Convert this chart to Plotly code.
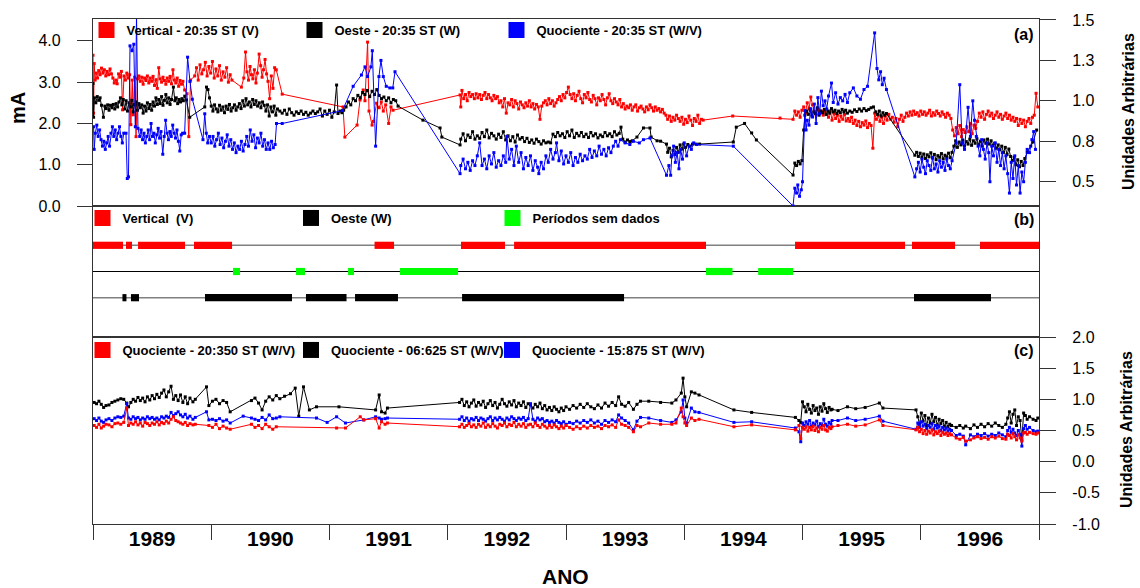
import plotly.graph_objects as go

FONT = "Liberation Sans, Arial, Helvetica, sans-serif"
RED, BLACK, BLUE, GREEN = "#FF0000", "#000000", "#0000FF", "#00FF00"
FRAME = "#333333"

# ---------------- data ----------------
years = [1989, 1990, 1991, 1992, 1993, 1994, 1995, 1996]
year_labels = [str(y) for y in years]
year_edges = years + [1997]

left_ticks_a = [0, 1, 2, 3, 4]
left_ticktext_a = ["0.0", "1.0", "2.0", "3.0", "4.0"]
right_ticks_a = [0.5, 0.75, 1.0, 1.25, 1.5]
right_ticktext_a = ["0.5", "0.8", "1.0", "1.3", "1.5"]
right_ticks_c = [-1, -0.5, 0, 0.5, 1, 1.5, 2]
right_ticktext_c = ["-1.0", "-0.5", "0.0", "0.5", "1.0", "1.5", "2.0"]

# Panel (a) - Vertical 20:35 ST (V), mA (left axis)
vertical_a = [
(1989.000,3.65),(1989.005,2.25),(1989.010,3.45),(1989.018,3.05),(1989.028,3.22),(1989.038,3.10),(1989.048,3.28),(1989.060,3.18),
(1989.072,3.34),(1989.084,3.22),(1989.096,3.30),(1989.108,3.15),(1989.120,3.26),(1989.132,3.18),(1989.144,3.32),(1989.156,3.20),
(1989.168,3.10),(1989.180,2.98),(1989.192,3.05),(1989.204,2.96),(1989.216,3.20),(1989.228,3.12),(1989.240,3.26),(1989.250,2.33),
(1989.262,3.15),(1989.274,3.05),(1989.286,3.22),(1989.298,3.10),(1989.310,3.18),(1989.320,1.97),(1989.332,3.05),(1989.340,2.21),
(1989.352,3.12),(1989.364,1.68),(1989.376,3.08),(1989.388,3.15),(1989.400,3.02),(1989.412,3.12),(1989.424,2.95),(1989.436,3.10),
(1989.448,3.04),(1989.460,3.15),(1989.472,2.98),(1989.484,3.10),(1989.496,3.02),(1989.508,3.14),(1989.520,2.92),(1989.532,3.06),
(1989.544,2.85),(1989.556,3.35),(1989.568,3.08),(1989.580,3.00),(1989.592,3.12),(1989.604,3.04),(1989.616,2.95),(1989.628,3.10),
(1989.640,3.02),(1989.652,3.14),(1989.664,2.96),(1989.676,3.30),(1989.688,3.05),(1989.700,2.98),(1989.712,3.10),(1989.724,2.90),
(1989.736,3.04),(1989.748,2.95),(1989.760,3.02),(1989.775,2.81),(1989.795,2.72),(1989.810,1.68),(1989.825,3.05),
(1989.860,3.15),(1989.875,3.35),(1989.890,3.05),(1989.905,3.42),(1989.920,3.20),(1989.935,3.30),(1989.950,3.48),(1989.965,3.15),
(1989.980,3.38),(1989.995,3.22),(1990.010,3.50),(1990.025,3.10),(1990.040,3.32),(1990.055,3.15),(1990.070,3.40),(1990.085,3.05),
(1990.100,3.25),(1990.115,3.12),(1990.130,3.35),(1990.145,3.00),(1990.160,3.18),(1990.175,3.05),(1990.255,2.88),
(1990.275,3.10),(1990.290,3.73),(1990.302,3.25),(1990.315,3.05),(1990.328,3.38),(1990.340,3.18),(1990.352,3.08),(1990.365,3.30),
(1990.378,2.98),(1990.390,3.22),(1990.405,3.68),(1990.418,3.40),(1990.430,3.12),(1990.442,3.30),(1990.455,3.55),(1990.468,3.20),
(1990.480,3.02),(1990.494,2.60),(1990.508,3.15),(1990.522,2.85),(1990.536,3.35),(1990.550,3.30),(1990.600,2.71),
(1991.114,2.40),(1991.130,1.67),(1991.233,1.96),(1991.258,2.57),(1991.285,2.81),(1991.300,2.55),(1991.322,3.97),(1991.334,2.30),
(1991.360,1.96),(1991.372,2.05),(1991.398,2.49),(1991.420,2.38),(1991.438,2.52),(1991.455,2.30),(1991.475,2.45),(1991.500,2.00),
(1991.520,2.40),(1991.537,2.32),(1992.104,2.69),
(1992.110,2.40),(1992.120,2.80),(1992.135,2.60),(1992.150,2.70),(1992.165,2.55),(1992.180,2.75),(1992.195,2.65),(1992.210,2.70),
(1992.225,2.60),(1992.240,2.72),(1992.255,2.62),(1992.270,2.70),(1992.285,2.58),(1992.300,2.68),(1992.315,2.75),(1992.330,2.60),
(1992.345,2.70),(1992.360,2.62),(1992.375,2.55),(1992.390,2.68),(1992.405,2.60),(1992.420,2.65),(1992.435,2.50),(1992.450,2.55),
(1992.465,2.40),(1992.480,2.60),(1992.495,2.25),(1992.510,2.50),(1992.525,2.45),(1992.540,2.58),(1992.555,2.40),(1992.570,2.55),
(1992.585,2.48),(1992.600,2.35),(1992.615,2.52),(1992.630,2.45),(1992.645,2.38),(1992.660,2.50),(1992.675,2.42),(1992.690,2.55),
(1992.705,2.40),(1992.720,2.48),(1992.735,2.35),(1992.750,2.46),(1992.765,2.40),(1992.780,2.10),(1992.795,2.42),(1992.810,2.50),
(1992.825,2.55),(1992.840,2.45),(1992.855,2.60),(1992.870,2.48),(1992.885,2.55),(1992.900,2.42),(1992.915,2.50),(1992.930,2.58),
(1992.945,2.65),(1992.960,2.55),(1992.975,2.70),(1992.990,2.62),(1993.005,2.75),(1993.020,2.88),(1993.035,2.70),(1993.050,2.60),
(1993.065,2.72),(1993.080,2.55),(1993.095,2.68),(1993.110,2.78),(1993.125,2.60),(1993.140,2.50),(1993.155,2.70),(1993.170,2.62),
(1993.185,2.75),(1993.200,2.58),(1993.215,2.52),(1993.230,2.68),(1993.245,2.60),(1993.260,2.45),(1993.275,2.62),(1993.290,2.55),
(1993.305,2.70),(1993.320,2.58),(1993.335,2.45),(1993.350,2.62),(1993.365,2.72),(1993.380,2.55),(1993.395,2.48),(1993.410,2.60),
(1993.425,2.52),(1993.440,2.45),(1993.455,2.58),(1993.470,2.40),(1993.485,2.48),(1993.500,2.35),(1993.515,2.42),(1993.530,2.38),
(1993.545,2.45),(1993.560,2.32),(1993.575,2.40),(1993.590,2.45),(1993.605,2.30),(1993.620,2.38),(1993.635,2.42),(1993.650,2.35),
(1993.665,2.28),(1993.680,2.40),(1993.695,2.33),(1993.710,2.45),(1993.725,2.38),(1993.740,2.30),(1993.755,2.40),(1993.770,2.32),
(1993.785,2.36),(1993.800,2.28),(1993.815,2.34),(1993.830,2.25),(1993.845,2.20),(1993.860,2.10),(1993.875,2.18),(1993.890,2.05),
(1993.905,2.15),(1993.920,2.08),(1993.935,2.20),(1993.950,2.12),(1993.965,2.05),(1993.980,2.15),(1993.995,1.98),(1994.010,2.10),
(1994.025,2.02),(1994.040,2.18),(1994.055,2.08),(1994.070,1.95),(1994.085,2.12),(1994.100,2.05),(1994.115,2.20),(1994.130,2.00),
(1994.145,2.10),(1994.160,2.08),(1994.410,2.18),(1994.810,2.13),(1994.920,2.10),
(1994.935,2.30),(1994.950,2.20),(1994.965,2.28),(1994.980,2.15),(1994.995,2.32),(1995.010,2.40),(1995.025,2.25),(1995.040,2.50),
(1995.055,2.35),(1995.070,2.64),(1995.085,2.45),(1995.100,2.30),(1995.115,2.22),(1995.130,2.35),(1995.145,2.25),(1995.160,2.30),
(1995.175,2.20),(1995.190,2.28),(1995.205,2.22),(1995.220,2.15),(1995.235,2.30),(1995.250,2.08),(1995.265,2.25),(1995.280,2.12),
(1995.295,2.20),(1995.310,2.05),(1995.325,2.18),(1995.340,2.10),(1995.355,2.22),(1995.370,2.06),(1995.385,2.12),(1995.400,2.05),
(1995.415,2.15),(1995.430,2.00),(1995.445,2.08),(1995.460,1.95),(1995.475,2.05),(1995.490,1.92),(1995.505,2.02),(1995.520,1.96),
(1995.535,2.06),(1995.550,1.90),(1995.565,2.00),(1995.580,1.95),(1995.595,1.40),(1995.610,2.25),(1995.625,2.10),(1995.640,2.20),
(1995.655,2.05),(1995.670,2.15),(1995.685,2.00),(1995.700,2.18),(1995.715,2.08),(1995.730,2.22),(1995.745,2.10),(1995.760,2.15),
(1995.775,2.03),(1995.790,2.12),(1995.805,1.92),(1995.820,2.10),(1995.835,2.20),(1995.850,2.05),(1995.865,2.15),(1995.880,2.25),
(1995.895,2.18),(1995.910,2.28),(1995.925,2.20),(1995.940,2.30),(1995.955,2.22),(1995.970,2.26),(1995.985,2.18),(1996.000,2.30),
(1996.015,2.22),(1996.030,2.28),(1996.045,2.20),(1996.060,2.25),(1996.075,2.32),(1996.090,2.18),(1996.105,2.26),(1996.120,2.20),
(1996.135,2.30),(1996.150,2.24),(1996.165,2.18),(1996.180,2.28),(1996.195,2.22),(1996.210,2.15),(1996.225,2.25),(1996.240,2.20),
(1996.255,2.12),(1996.270,1.84),(1996.285,1.70),(1996.300,1.90),(1996.315,1.75),(1996.330,1.95),(1996.345,1.68),(1996.360,1.85),
(1996.375,1.78),(1996.390,1.92),(1996.405,1.80),(1996.420,2.00),(1996.435,1.75),(1996.450,1.96),(1996.465,1.88),(1996.480,2.05),
(1996.495,2.25),(1996.510,2.15),(1996.525,2.28),(1996.540,2.10),(1996.555,2.22),(1996.570,2.30),(1996.585,2.18),(1996.600,2.25),
(1996.615,2.12),(1996.630,2.20),(1996.645,2.28),(1996.660,2.15),(1996.675,2.22),(1996.690,2.10),(1996.705,2.18),(1996.720,2.25),
(1996.735,2.12),(1996.750,2.20),(1996.765,2.08),(1996.780,2.15),(1996.795,2.05),(1996.810,2.12),(1996.825,1.95),(1996.840,2.10),
(1996.855,2.00),(1996.870,2.08),(1996.885,1.92),(1996.900,2.05),(1996.915,2.12),(1996.930,2.00),(1996.945,2.15),(1996.960,2.20),
(1996.975,2.73),(1996.990,2.40),
]

# Panel (a) - Oeste 20:35 ST (W), mA (left axis)
oeste_a = [
(1989.000,2.97),(1989.005,2.15),(1989.012,2.62),(1989.024,2.50),(1989.036,2.65),(1989.048,2.56),(1989.060,2.62),(1989.072,2.44),
(1989.088,2.15),(1989.100,2.42),(1989.112,2.36),(1989.124,2.45),(1989.136,2.32),(1989.148,2.44),(1989.160,2.38),(1989.172,2.46),
(1989.184,2.35),(1989.196,2.48),(1989.208,2.40),(1989.220,2.52),(1989.232,2.62),(1989.244,2.45),(1989.256,2.58),(1989.268,2.35),
(1989.280,2.55),(1989.292,2.30),(1989.304,2.50),(1989.316,2.40),(1989.328,2.56),(1989.340,2.28),(1989.352,2.46),(1989.364,2.52),
(1989.376,2.32),(1989.388,2.48),(1989.400,2.38),(1989.412,2.45),(1989.424,2.25),(1989.436,2.42),(1989.448,2.30),(1989.460,2.50),
(1989.472,2.36),(1989.484,2.46),(1989.496,2.32),(1989.508,2.52),(1989.520,2.42),(1989.532,2.62),(1989.544,2.46),(1989.556,2.58),
(1989.568,2.48),(1989.580,2.65),(1989.592,2.44),(1989.604,2.56),(1989.616,2.70),(1989.628,2.50),(1989.640,2.62),(1989.652,2.46),
(1989.664,2.58),(1989.680,2.88),(1989.692,2.55),(1989.704,2.62),(1989.716,2.48),(1989.728,2.58),(1989.740,2.52),(1989.752,2.60),
(1989.764,2.55),(1989.776,2.66),(1989.790,2.57),(1989.818,2.15),(1989.945,2.40),(1989.960,2.88),(1989.972,2.82),(1989.985,2.62),
(1990.000,2.42),(1990.014,2.30),(1990.028,2.45),(1990.042,2.35),(1990.056,2.28),(1990.070,2.44),(1990.084,2.32),(1990.098,2.40),
(1990.112,2.26),(1990.126,2.42),(1990.140,2.34),(1990.154,2.46),(1990.168,2.30),(1990.182,2.38),(1990.196,2.45),(1990.210,2.32),
(1990.224,2.40),(1990.238,2.48),(1990.252,2.36),(1990.266,2.55),(1990.280,2.42),(1990.294,2.60),(1990.308,2.45),(1990.322,2.52),
(1990.336,2.40),(1990.350,2.58),(1990.364,2.46),(1990.378,2.55),(1990.392,2.42),(1990.406,2.50),(1990.420,2.38),(1990.434,2.52),
(1990.448,2.44),(1990.462,2.30),(1990.476,2.45),(1990.490,2.18),(1990.504,2.40),(1990.518,2.28),(1990.532,2.42),(1990.546,2.20),
(1990.560,2.35),(1990.580,2.30),(1990.600,2.25),(1990.620,2.32),(1990.640,2.22),(1990.660,2.35),(1990.680,2.26),(1990.700,2.20),
(1990.720,2.28),(1990.740,2.24),(1990.760,2.30),(1990.780,2.22),(1990.800,2.27),(1990.820,2.20),(1990.840,2.25),(1990.860,2.30),
(1990.880,2.24),(1990.900,2.28),(1990.920,2.35),(1990.940,2.18),(1990.960,2.30),(1990.980,2.22),(1991.000,2.32),(1991.020,2.15),
(1991.040,2.28),(1991.060,2.93),(1991.072,2.24),(1991.090,2.30),(1991.105,2.26),(1991.120,2.32),(1991.140,2.40),(1991.160,2.52),
(1991.180,2.45),(1991.200,2.60),(1991.220,2.55),(1991.240,2.68),(1991.260,2.62),(1991.280,2.75),(1991.300,2.70),(1991.320,2.80),
(1991.340,2.65),(1991.360,2.78),(1991.380,2.70),(1991.400,2.82),(1991.420,2.68),(1991.440,2.60),(1991.460,2.64),(1991.480,2.55),
(1991.500,2.62),(1991.520,2.50),(1991.540,2.58),(1991.560,2.55),(1991.580,2.42),
(1991.790,2.08),(1991.935,1.89),(1991.950,1.67),(1992.104,1.48),
(1992.110,1.62),(1992.130,1.75),(1992.150,1.58),(1992.170,1.72),(1992.190,1.66),(1992.210,1.80),(1992.230,1.62),(1992.250,1.70),
(1992.270,1.64),(1992.290,1.78),(1992.310,1.68),(1992.330,1.84),(1992.350,1.65),(1992.370,1.76),(1992.390,1.70),(1992.410,1.62),
(1992.430,1.74),(1992.450,1.66),(1992.470,1.80),(1992.490,1.60),(1992.510,1.70),(1992.530,1.58),(1992.550,1.68),(1992.570,1.55),
(1992.590,1.72),(1992.610,1.62),(1992.630,1.66),(1992.650,1.56),(1992.670,1.64),(1992.690,1.54),(1992.710,1.60),(1992.730,1.52),
(1992.750,1.62),(1992.770,1.56),(1992.790,1.50),(1992.810,1.58),(1992.830,1.53),(1992.850,1.55),(1992.870,1.53),(1992.890,1.74),
(1992.910,1.68),(1992.930,1.78),(1992.950,1.70),(1992.970,1.75),(1992.990,1.66),(1993.010,1.80),(1993.030,1.70),(1993.050,1.84),
(1993.070,1.66),(1993.090,1.76),(1993.110,1.70),(1993.130,1.78),(1993.150,1.68),(1993.170,1.74),(1993.190,1.66),(1993.210,1.78),
(1993.230,1.70),(1993.250,1.75),(1993.270,1.65),(1993.290,1.72),(1993.310,1.68),(1993.330,1.78),(1993.350,1.70),(1993.370,1.75),
(1993.390,1.68),(1993.410,1.80),(1993.430,1.72),(1993.450,1.76),(1993.465,1.91),(1993.480,1.62),(1993.500,1.55),(1993.520,1.60),
(1993.540,1.56),(1993.560,1.58),(1993.600,1.67),(1993.655,1.89),(1993.710,1.89),(1993.720,1.67),(1993.770,1.58),(1993.800,1.57),
(1993.850,1.50),(1993.860,1.30),(1993.875,1.40),(1993.890,1.19),(1993.905,1.35),(1993.920,1.25),(1993.935,1.42),(1993.950,1.30),
(1993.965,1.48),(1993.980,1.38),(1993.995,1.50),(1994.010,1.42),(1994.030,1.49),(1994.050,1.45),(1994.070,1.50),(1994.100,1.50),
(1994.130,1.50),(1994.415,1.55),(1994.440,1.91),(1994.510,2.00),(1994.570,1.77),(1994.610,1.60),(1994.920,0.75),
(1994.935,1.04),(1994.950,0.98),(1994.965,1.08),(1994.980,1.02),(1994.995,1.10),(1995.010,1.84),(1995.020,2.20),(1995.035,2.30),
(1995.050,2.22),(1995.065,2.35),(1995.080,2.18),(1995.095,2.28),(1995.110,2.24),(1995.125,2.38),(1995.140,2.20),(1995.155,2.30),
(1995.170,2.26),(1995.185,2.34),(1995.200,2.22),(1995.215,2.30),(1995.230,2.25),(1995.245,2.36),(1995.260,2.28),(1995.275,2.32),
(1995.290,2.24),(1995.305,2.30),(1995.320,2.26),(1995.335,2.34),(1995.350,2.28),(1995.365,2.32),(1995.380,2.25),(1995.400,2.30),
(1995.420,2.27),(1995.440,2.33),(1995.460,2.29),(1995.480,2.35),(1995.500,2.30),(1995.520,2.36),(1995.540,2.31),(1995.560,2.34),
(1995.580,2.38),(1995.600,2.40),(1995.620,2.28),(1995.635,2.22),(1995.650,2.30),(1995.665,2.18),(1995.680,2.26),(1995.695,2.20),
(1995.710,2.24),(1995.950,1.23),(1995.965,1.30),(1995.980,1.20),(1995.995,1.28),(1996.010,1.18),(1996.025,1.26),(1996.040,1.15),
(1996.055,1.24),(1996.070,1.19),(1996.085,1.29),(1996.100,1.16),(1996.115,1.25),(1996.130,1.12),(1996.145,1.22),(1996.160,1.18),
(1996.175,1.27),(1996.190,1.14),(1996.205,1.23),(1996.220,1.19),(1996.235,1.28),(1996.250,1.17),(1996.265,1.30),(1996.280,1.45),
(1996.295,1.58),(1996.310,1.42),(1996.325,1.55),(1996.340,1.48),(1996.355,1.60),(1996.370,1.45),(1996.385,1.56),(1996.400,1.50),
(1996.415,1.62),(1996.430,1.47),(1996.445,1.58),(1996.460,1.52),(1996.475,1.63),(1996.490,1.48),(1996.505,1.57),(1996.520,1.45),
(1996.535,1.60),(1996.550,1.52),(1996.565,1.62),(1996.580,1.50),(1996.595,1.58),(1996.610,1.46),(1996.625,1.52),(1996.640,1.40),
(1996.655,1.48),(1996.670,1.36),(1996.685,1.45),(1996.700,1.30),(1996.715,1.42),(1996.730,1.25),(1996.745,1.38),(1996.760,1.20),
(1996.775,1.10),(1996.790,1.18),(1996.805,1.00),(1996.820,1.12),(1996.835,0.95),(1996.850,1.08),(1996.865,0.98),(1996.880,1.15),
(1996.900,1.30),(1996.930,1.45),(1996.950,1.55),(1996.980,1.84),
]

# Panel (a) - Quociente 20:35 ST (W/V), arbitrary units (right axis)
quociente_a = [
(1989.005,0.84),(1989.010,0.70),(1989.020,0.80),(1989.032,0.85),(1989.044,0.78),(1989.056,0.82),(1989.068,0.76),(1989.080,0.72),
(1989.092,0.75),(1989.104,0.70),(1989.116,0.74),(1989.128,0.78),(1989.140,0.72),(1989.152,0.80),(1989.164,0.84),(1989.176,0.78),
(1989.188,0.82),(1989.200,0.76),(1989.212,0.80),(1989.224,0.84),(1989.236,0.78),(1989.248,0.74),(1989.260,0.80),(1989.279,0.80),
(1989.290,0.52),(1989.300,0.53),(1989.313,1.34),(1989.330,1.31),(1989.345,1.35),(1989.358,0.84),(1989.368,1.53),(1989.380,0.83),
(1989.395,0.78),(1989.407,0.82),(1989.419,0.76),(1989.431,0.80),(1989.443,0.74),(1989.455,0.78),(1989.467,0.82),(1989.479,0.76),
(1989.491,0.86),(1989.503,0.78),(1989.515,0.80),(1989.527,0.74),(1989.539,0.79),(1989.551,0.83),(1989.563,0.77),(1989.575,0.81),
(1989.590,0.67),(1989.602,0.78),(1989.614,0.88),(1989.626,0.80),(1989.638,0.76),(1989.650,0.81),(1989.662,0.78),(1989.674,0.85),
(1989.686,0.80),(1989.698,0.77),(1989.710,0.82),(1989.722,0.75),(1989.734,0.69),(1989.746,0.79),(1989.758,0.80),(1989.775,0.80),
(1989.800,1.27),(1989.820,1.12),(1989.840,1.01),(1989.930,0.76),(1989.945,0.92),(1989.958,0.80),(1989.970,0.74),(1989.985,0.78),
(1990.000,0.74),(1990.015,0.78),(1990.030,0.72),(1990.045,0.76),(1990.060,0.80),(1990.075,0.73),(1990.090,0.77),(1990.105,0.71),
(1990.120,0.75),(1990.135,0.79),(1990.150,0.72),(1990.165,0.76),(1990.180,0.70),(1990.195,0.74),(1990.210,0.68),(1990.225,0.72),
(1990.240,0.70),(1990.255,0.75),(1990.270,0.69),(1990.285,0.73),(1990.300,0.78),(1990.315,0.72),(1990.330,0.82),(1990.345,0.75),
(1990.360,0.79),(1990.375,0.71),(1990.390,0.77),(1990.405,0.74),(1990.420,0.80),(1990.435,0.72),(1990.450,0.76),(1990.465,0.70),
(1990.480,0.74),(1990.495,0.70),(1990.510,0.75),(1990.525,0.71),(1990.540,0.73),(1990.552,0.86),(1990.600,0.86),
(1991.110,0.94),(1991.200,1.09),(1991.270,1.16),(1991.300,1.21),(1991.322,1.15),(1991.350,1.21),(1991.362,1.31),(1991.390,0.72),
(1991.418,1.15),(1991.435,1.25),(1991.455,1.15),(1991.480,1.09),(1991.510,1.08),(1991.535,1.08),(1991.554,1.18),(1992.104,0.55),
(1992.110,0.60),(1992.130,0.64),(1992.150,0.58),(1992.170,0.62),(1992.190,0.57),(1992.210,0.63),(1992.230,0.60),(1992.250,0.66),
(1992.270,0.74),(1992.290,0.60),(1992.310,0.64),(1992.330,0.58),(1992.350,0.66),(1992.370,0.61),(1992.390,0.68),(1992.410,0.59),
(1992.430,0.63),(1992.450,0.60),(1992.470,0.66),(1992.490,0.62),(1992.500,0.78),(1992.520,0.64),(1992.540,0.70),(1992.560,0.60),
(1992.580,0.72),(1992.600,0.62),(1992.620,0.68),(1992.640,0.58),(1992.660,0.65),(1992.680,0.60),(1992.700,0.66),(1992.720,0.57),
(1992.740,0.63),(1992.760,0.59),(1992.770,0.55),(1992.790,0.62),(1992.810,0.58),(1992.830,0.66),(1992.850,0.62),(1992.870,0.70),
(1992.890,0.64),(1992.910,0.68),(1992.920,0.74),(1992.940,0.63),(1992.960,0.69),(1992.980,0.61),(1993.000,0.66),(1993.020,0.62),
(1993.040,0.68),(1993.060,0.60),(1993.080,0.65),(1993.100,0.62),(1993.120,0.67),(1993.140,0.63),(1993.160,0.66),(1993.180,0.64),
(1993.200,0.70),(1993.220,0.65),(1993.240,0.69),(1993.260,0.66),(1993.280,0.72),(1993.300,0.67),(1993.320,0.70),(1993.340,0.66),
(1993.360,0.71),(1993.380,0.68),(1993.400,0.72),(1993.420,0.75),(1993.440,0.72),(1993.460,0.76),(1993.500,0.74),(1993.540,0.73),
(1993.570,0.75),(1993.620,0.74),(1993.655,0.76),(1993.710,0.77),(1993.850,0.54),(1993.870,0.60),(1993.885,0.54),(1993.895,0.66),
(1993.910,0.72),(1993.925,0.62),(1993.940,0.68),(1993.955,0.58),(1993.970,0.70),(1993.985,0.64),(1994.000,0.74),(1994.020,0.66),
(1994.040,0.72),(1994.060,0.70),(1994.080,0.74),(1994.105,0.73),(1994.415,0.72),(1994.920,0.35),
(1994.935,0.46),(1994.950,0.43),(1994.960,0.48),(1994.975,0.41),(1994.990,0.45),(1995.000,0.50),(1995.020,0.94),(1995.030,0.82),
(1995.040,0.88),(1995.055,0.85),(1995.070,0.95),(1995.085,0.90),(1995.100,0.98),(1995.115,0.86),(1995.130,1.02),(1995.145,0.92),
(1995.160,1.06),(1995.175,0.97),(1995.190,1.00),(1995.205,0.95),(1995.220,1.03),(1995.245,1.11),(1995.260,0.99),(1995.280,1.05),
(1995.300,0.98),(1995.320,1.02),(1995.340,1.00),(1995.360,1.04),(1995.380,0.99),(1995.400,1.05),(1995.430,1.08),(1995.460,1.03),
(1995.490,1.01),(1995.520,1.07),(1995.550,1.09),(1995.610,1.42),(1995.630,1.20),(1995.645,1.13),(1995.660,1.18),(1995.675,1.10),
(1995.690,1.14),(1995.710,1.07),(1995.950,0.53),(1995.965,0.58),(1995.980,0.62),(1995.995,0.56),(1996.010,0.64),(1996.025,0.59),
(1996.040,0.55),(1996.055,0.63),(1996.070,0.60),(1996.085,0.57),(1996.100,0.65),(1996.115,0.58),(1996.130,0.61),(1996.145,0.56),
(1996.160,0.63),(1996.175,0.59),(1996.190,0.62),(1996.205,0.57),(1996.220,0.64),(1996.235,0.60),(1996.250,0.58),(1996.265,0.63),
(1996.300,0.74),(1996.330,1.10),(1996.350,0.74),(1996.370,0.70),(1996.400,0.96),(1996.420,0.78),(1996.440,1.00),(1996.455,0.88),
(1996.470,0.78),(1996.485,0.72),(1996.500,0.66),(1996.515,0.76),(1996.530,0.70),(1996.545,0.64),(1996.560,0.74),(1996.575,0.68),
(1996.585,0.50),(1996.600,0.72),(1996.615,0.66),(1996.630,0.74),(1996.645,0.62),(1996.660,0.70),(1996.675,0.60),(1996.690,0.68),
(1996.705,0.58),(1996.720,0.66),(1996.735,0.55),(1996.750,0.43),(1996.765,0.62),(1996.780,0.52),(1996.795,0.66),(1996.810,0.48),
(1996.825,0.60),(1996.840,0.43),(1996.855,0.56),(1996.870,0.50),(1996.885,0.62),(1996.900,0.70),(1996.920,0.68),(1996.940,0.76),
(1996.955,0.81),(1996.970,0.70),
]

# Panel (c) - quotients W/V at three times: (year, 06:625 ST, 15:875 ST, 20:350 ST)
panel_c = [
(1989.010,0.95,0.69,0.58),(1989.030,0.93,0.66,0.55),(1989.050,0.97,0.70,0.60),(1989.070,0.92,0.65,0.54),
(1989.090,0.87,0.63,0.57),(1989.110,0.90,0.67,0.60),(1989.135,0.91,0.69,0.59),(1989.160,0.95,0.66,0.56),
(1989.185,0.97,0.70,0.61),(1989.210,0.99,0.72,0.62),(1989.235,1.01,0.71,0.60),(1989.260,1.00,0.73,0.63),
(1989.285,0.94,0.93,0.86),(1989.300,0.88,0.70,0.58),(1989.320,0.95,0.68,0.62),(1989.340,1.00,0.72,0.60),
(1989.360,0.97,0.69,0.64),(1989.380,1.03,0.71,0.59),(1989.400,0.98,0.67,0.62),(1989.420,1.02,0.70,0.57),
(1989.440,0.96,0.68,0.63),(1989.460,1.04,0.72,0.61),(1989.480,0.99,0.69,0.58),(1989.500,1.06,0.71,0.62),
(1989.520,1.01,0.68,0.60),(1989.540,1.08,0.70,0.64),(1989.560,1.03,0.67,0.59),(1989.580,1.10,0.72,0.63),
(1989.600,1.15,0.70,0.61),(1989.620,1.04,0.73,0.65),(1989.640,1.12,0.71,0.62),(1989.660,1.21,0.79,0.68),
(1989.680,1.00,0.74,0.72),(1989.700,1.06,0.77,0.66),(1989.720,0.98,0.80,0.64),(1989.740,1.07,0.75,0.62),
(1989.760,0.95,0.72,0.60),(1989.780,1.04,0.76,0.63),(1989.800,0.93,0.70,0.58),(1989.820,1.02,0.73,0.61),
(1989.845,0.96,0.68,0.59),(1989.865,1.00,0.71,0.60),(1989.960,1.20,0.80,None),(1989.980,0.90,0.67,0.58),
(1990.010,0.97,0.68,0.55),(1990.040,1.00,0.66,0.60),(1990.070,0.93,0.69,0.53),(1990.100,0.98,0.65,0.57),
(1990.130,0.95,0.67,0.54),(1990.160,0.80,0.62,0.52),(1990.270,None,0.73,None),(1990.340,0.98,0.70,0.60),
(1990.370,1.02,0.68,0.55),(1990.400,0.94,0.66,0.58),(1990.430,0.83,0.71,0.53),(1990.460,0.97,0.67,0.60),
(1990.490,1.04,0.75,0.56),(1990.520,0.99,0.69,0.52),(1990.550,1.06,0.70,0.56),(1990.580,1.01,0.72,None),
(1990.620,1.05,None,None),(1990.670,1.09,None,None),(1990.710,1.18,None,None),(1990.740,0.73,None,None),
(1990.780,1.20,None,None),(1990.830,0.83,None,None),(1990.890,0.88,0.70,None),(1990.980,None,0.63,None),
(1991.060,None,0.72,0.54),(1991.080,0.88,None,None),(1991.135,None,0.62,0.54),(1991.260,None,None,0.72),
(1991.290,None,0.67,0.67),(1991.390,0.83,0.72,0.69),(1991.420,1.07,0.70,0.54),(1991.440,0.80,0.68,0.64),
(1991.470,0.78,0.69,0.60),(1991.490,0.86,0.70,0.62),
(1992.100,0.95,0.68,0.56),(1992.120,1.00,0.72,0.60),(1992.140,0.90,0.66,0.55),(1992.160,0.96,0.70,0.58),
(1992.180,0.88,0.65,0.61),(1992.200,0.94,0.69,0.56),(1992.220,0.99,0.67,0.59),(1992.240,0.89,0.71,0.55),
(1992.260,0.95,0.66,0.60),(1992.280,0.91,0.70,0.57),(1992.300,0.97,0.68,0.62),(1992.320,0.87,0.65,0.55),
(1992.340,0.93,0.69,0.59),(1992.360,0.98,0.72,0.56),(1992.380,0.90,0.66,0.61),(1992.400,0.95,0.70,0.57),
(1992.420,0.86,0.67,0.54),(1992.440,0.92,0.71,0.60),(1992.460,1.00,0.68,0.58),(1992.480,0.93,0.65,0.62),
(1992.500,0.89,0.70,0.56),(1992.520,0.96,0.67,0.60),(1992.540,0.91,0.72,0.58),(1992.560,0.98,0.69,0.63),
(1992.580,0.88,0.66,0.56),(1992.600,0.94,0.70,0.60),(1992.620,0.90,0.68,0.57),(1992.640,0.96,0.71,0.61),
(1992.660,0.87,0.66,0.55),(1992.680,0.93,0.69,0.59),(1992.700,0.91,0.93,0.60),(1992.720,0.86,0.68,0.56),
(1992.740,0.92,0.65,0.62),(1992.760,0.88,0.70,0.58),(1992.780,0.94,0.67,0.55),(1992.800,0.85,0.69,0.60),
(1992.820,0.90,0.64,0.57),(1992.840,0.83,0.66,0.54),(1992.860,0.87,0.63,0.58),(1992.880,0.82,0.65,0.55),
(1992.900,0.88,0.62,0.59),(1992.920,0.84,0.66,0.56),(1992.940,0.80,0.63,0.53),(1992.960,0.86,0.61,0.57),
(1992.980,0.82,0.64,0.54),(1993.000,0.88,0.60,0.58),(1993.030,0.84,0.63,0.55),(1993.060,0.90,0.61,0.52),
(1993.090,0.86,0.65,0.56),(1993.120,0.92,0.62,0.53),(1993.150,0.87,0.66,0.57),(1993.180,0.93,0.63,0.54),
(1993.210,0.88,0.67,0.58),(1993.240,0.85,0.62,0.55),(1993.270,0.91,0.65,0.57),(1993.300,0.86,0.60,0.53),
(1993.330,0.94,0.66,0.58),(1993.360,0.89,0.63,0.56),(1993.390,0.95,0.67,0.59),(1993.420,0.90,0.64,0.55),
(1993.445,1.04,0.75,0.67),(1993.470,0.92,0.70,0.60),(1993.500,0.89,0.66,0.58),(1993.530,0.95,0.62,0.55),
(1993.570,0.84,0.51,0.48),(1993.600,0.92,0.65,0.58),(1993.630,0.97,0.71,0.56),(1993.700,0.97,0.70,0.62),
(1993.800,0.95,0.66,0.60),(1993.895,0.94,0.63,0.60),(1993.930,0.99,0.67,0.62),(1993.975,1.10,0.80,0.86),
(1993.990,1.34,0.99,0.72),(1994.005,1.04,0.70,0.62),(1994.020,0.88,0.62,0.58),(1994.060,1.12,0.86,0.70),
(1994.090,1.10,0.80,0.66),(1994.125,1.07,0.79,0.68),(1994.420,0.83,0.63,0.56),(1994.570,0.79,0.64,0.59),
(1994.940,0.71,0.54,0.51),(1994.970,0.66,0.48,0.58),(1994.985,0.63,0.32,0.37),(1995.000,0.96,0.62,0.55),
(1995.015,0.88,0.58,0.52),(1995.030,0.80,0.64,0.56),(1995.045,0.92,0.60,0.49),(1995.060,0.84,0.66,0.55),
(1995.075,0.78,0.57,0.51),(1995.090,0.90,0.62,0.57),(1995.105,0.82,0.59,0.50),(1995.120,0.86,0.65,0.54),
(1995.135,0.76,0.56,0.48),(1995.150,0.88,0.61,0.55),(1995.165,0.81,0.58,0.52),(1995.180,0.93,0.68,0.58),
(1995.195,0.85,0.60,0.51),(1995.210,0.79,0.57,0.49),(1995.225,0.87,0.63,0.55),(1995.240,0.83,0.60,0.53),
(1995.250,0.84,0.66,0.56),(1995.300,0.82,0.66,0.58),(1995.380,0.88,0.70,0.60),(1995.450,0.85,0.66,0.57),
(1995.530,0.87,0.68,0.59),(1995.650,0.94,0.73,0.67),(1995.680,0.86,0.65,0.58),(1995.960,0.83,0.52,0.51),
(1995.975,0.72,0.62,0.55),(1995.990,0.60,0.55,0.48),(1996.005,0.78,0.64,0.52),(1996.020,0.65,0.57,0.45),
(1996.035,0.74,0.60,0.50),(1996.050,0.58,0.53,0.44),(1996.065,0.70,0.58,0.49),(1996.080,0.62,0.55,0.46),
(1996.095,0.76,0.61,0.51),(1996.110,0.64,0.52,0.43),(1996.125,0.71,0.58,0.48),(1996.140,0.59,0.54,0.45),
(1996.155,0.68,0.57,0.49),(1996.170,0.61,0.50,0.42),(1996.185,0.66,0.55,0.47),(1996.200,0.57,0.51,0.44),
(1996.215,0.63,0.54,0.46),(1996.230,0.56,0.49,0.42),(1996.245,0.60,0.52,0.45),(1996.260,0.58,0.50,0.43),
(1996.300,0.55,0.42,0.38),(1996.330,0.58,0.44,0.36),(1996.360,0.54,0.41,0.39),(1996.380,0.57,0.27,0.33),
(1996.420,0.53,0.43,0.35),(1996.450,0.59,0.40,0.38),(1996.480,0.55,0.44,0.40),(1996.510,0.60,0.42,0.37),
(1996.540,0.56,0.45,0.39),(1996.570,0.61,0.41,0.36),(1996.600,0.57,0.44,0.40),(1996.630,0.62,0.42,0.38),
(1996.660,0.58,0.46,0.41),(1996.690,0.55,0.43,0.37),(1996.720,0.60,0.40,0.36),(1996.735,0.70,0.50,0.44),
(1996.750,0.80,0.55,0.42),(1996.765,0.62,0.47,0.38),(1996.780,0.76,0.52,0.45),(1996.795,0.83,0.46,0.40),
(1996.810,0.58,0.42,0.35),(1996.825,0.72,0.50,0.43),(1996.840,0.66,0.44,0.38),(1996.855,0.35,0.25,0.33),
(1996.870,0.78,0.53,0.46),(1996.885,0.74,0.58,0.47),(1996.900,0.68,0.52,0.44),(1996.920,0.72,0.55,0.47),
(1996.950,0.68,0.50,0.45),(1996.975,0.66,0.48,0.44),(1996.990,0.70,0.49,0.46),
]

# Panel (b) - periods (start, end) in decimal years
bars_v = [(1989.000,1989.254),(1989.279,1989.330),(1989.381,1989.778),(1989.854,1990.176),(1991.381,1991.546),
          (1992.112,1992.484),(1992.561,1994.184),(1994.937,1995.867),(1995.926,1996.290),(1996.501,1997.000)]
bars_gap = [(1990.184,1990.243),(1990.717,1990.793),(1991.157,1991.207),(1991.596,1992.087),
            (1994.184,1994.408),(1994.625,1994.921)]
bars_w = [(1989.249,1989.283),(1989.321,1989.389),(1989.947,1990.683),(1990.801,1991.144),
          (1991.216,1991.579),(1992.121,1993.491),(1995.943,1996.594)]

# ---------------- layout constants ----------------
ROW_V, ROW_GAP, ROW_W = 7, 5, 3
DOM_C = [0, 187 / 505]
DOM_B = [187 / 505, 318 / 505]
DOM_A = [318 / 505, 1]
PLOT_L, PLOT_W, PLOT_B, PLOT_H = 93, 946, 524, 505
X_RANGE = [1989, 1997]


def px_x(px):
    return (px - PLOT_L) / PLOT_W


def px_y(py):
    return (PLOT_B - py) / PLOT_H


fig = go.Figure()


def line_trace(pts, color, xaxis, yaxis):
    return go.Scatter(
        x=[p[0] for p in pts], y=[p[1] for p in pts], mode="lines+markers",
        line=dict(color=color, width=1), marker=dict(color=color, size=3, symbol="square"),
        xaxis=xaxis, yaxis=yaxis, showlegend=False, hoverinfo="skip", connectgaps=True)


def bar_trace(periods, row, color):
    return go.Bar(orientation="h", base=[s for s, e in periods], x=[e - s for s, e in periods],
                  y=[row] * len(periods), width=0.55, marker=dict(color=color, line=dict(width=0)),
                  xaxis="x2", yaxis="y2", showlegend=False, hoverinfo="skip")


# panel a (x3)
fig.add_trace(line_trace(vertical_a, RED, "x3", "y3"))
fig.add_trace(line_trace(oeste_a, BLACK, "x3", "y3"))
fig.add_trace(line_trace(quociente_a, BLUE, "x3", "y4"))
# panel b (x2)
fig.add_trace(bar_trace(bars_v, ROW_V, RED))
fig.add_trace(bar_trace(bars_gap, ROW_GAP, GREEN))
fig.add_trace(bar_trace(bars_w, ROW_W, BLACK))
# panel c (x)
cx = [r[0] for r in panel_c]
q0625 = [(x, r[1]) for x, r in zip(cx, panel_c)]
q1587 = [(x, r[2]) for x, r in zip(cx, panel_c)]
q2035 = [(x, r[3]) for x, r in zip(cx, panel_c)]
fig.add_trace(line_trace(q0625, BLACK, "x", "y"))
fig.add_trace(line_trace(q1587, BLUE, "x", "y"))
fig.add_trace(line_trace(q2035, RED, "x", "y"))

# legend entries: (label, colour, x axis, y axis, swatch centre x px, centre y px)
# (x4 is the overlay axis that carries the year labels; one swatch is bound to it)
legend_items = [
    ("Vertical - 20:35 ST (V)", RED, "x3", "y3", 109.5, 30),
    ("Oeste - 20:35 ST (W)", BLACK, "x3", "y3", 317.5, 30),
    ("Quociente - 20:35 ST (W/V)", BLUE, "x3", "y3", 519.5, 30),
    ("Vertical\u00a0 (V)", RED, "x2", "y2", 105.5, 218),
    ("Oeste (W)", BLACK, "x2", "y2", 314, 218),
    ("Períodos sem dados", GREEN, "x2", "y2", 515.5, 218),
    ("Quociente - 20:350 ST (W/V)", RED, "x4", "y", 105.5, 350),
    ("Quociente - 06:625 ST (W/V)", BLACK, "x", "y", 314, 350),
    ("Quociente - 15:875 ST (W/V)", BLUE, "x", "y", 515, 350),
]
legend_layout = {}
for i, (label, color, xax, yax, cxp, cyp) in enumerate(legend_items):
    key = "legend" if i == 0 else f"legend{i + 1}"
    fig.add_trace(go.Scatter(x=[None], y=[None], mode="markers", name=label,
                             marker=dict(symbol="square", size=16, color=color),
                             xaxis=xax, yaxis=yax, legend=key, hoverinfo="skip"))
    legend_layout[key] = dict(
        x=px_x(cxp - 23), y=px_y(cyp), xanchor="left", yanchor="middle", orientation="h",
        bgcolor="rgba(0,0,0,0)", borderwidth=0,
        font=dict(family=FONT, size=13, color="black", weight="bold"),
        itemclick=False, itemdoubleclick=False)

axis_common = dict(showline=True, linecolor=FRAME, linewidth=1.2, showgrid=False, zeroline=False,
                   tickcolor=FRAME, tickwidth=1.2, tickfont=dict(size=16, color="black"))
frame_x = dict(range=X_RANGE, showline=True, mirror=True, linecolor=FRAME, linewidth=1.2,
               showgrid=False, zeroline=False, showticklabels=False, ticks="", matches="x")

fig.update_layout(
    width=1140, height=588, margin=dict(l=93, r=101, t=19, b=64, autoexpand=False),
    paper_bgcolor="white", plot_bgcolor="white",
    font=dict(family=FONT, color="black"),
    showlegend=True, barmode="overlay",
    # year-boundary ticks
    xaxis=dict(domain=[0, 1], range=X_RANGE, anchor="y",
               tickmode="array", tickvals=year_edges, ticktext=[""] * len(year_edges),
               ticks="outside", ticklen=15, tickwidth=1.2, tickcolor=FRAME,
               showline=True, mirror=True, linecolor=FRAME, linewidth=1.2,
               showgrid=False, zeroline=False),
    xaxis2=dict(domain=[0, 1], anchor="y2", **frame_x),
    xaxis3=dict(domain=[0, 1], anchor="y3", **frame_x),
    # year labels centred between the boundary ticks
    xaxis4=dict(overlaying="x", anchor="y", range=X_RANGE, matches="x",
                tickmode="array", tickvals=[y + 0.5 for y in years], ticktext=year_labels,
                ticks="", showline=False, showgrid=False, zeroline=False,
                tickfont=dict(size=21, color="black", weight="bold")),
    yaxis=dict(domain=DOM_C, range=[-1, 2], side="right", anchor="x", mirror=True,
               tickmode="array", tickvals=right_ticks_c, ticktext=right_ticktext_c,
               ticks="outside", ticklen=16, ticklabelstandoff=13, **axis_common),
    yaxis2=dict(domain=DOM_B, range=[0, 10], anchor="x2", mirror=True, showticklabels=False,
                ticks="", showline=True, linecolor=FRAME, linewidth=1.2, showgrid=False, zeroline=False),
    yaxis3=dict(domain=DOM_A, range=[0, 4.53], side="left", anchor="x3", mirror=True,
                tickmode="array", tickvals=left_ticks_a, ticktext=left_ticktext_a,
                ticks="outside", ticklen=15, ticklabelstandoff=13, **axis_common),
    yaxis4=dict(overlaying="y3", range=[0.350, 1.506], side="right", anchor="x3",
                tickmode="array", tickvals=right_ticks_a, ticktext=right_ticktext_a,
                ticks="outside", ticklen=16, ticklabelstandoff=13,
                showline=False, showgrid=False, zeroline=False,
                tickcolor=FRAME, tickwidth=1.2, tickfont=dict(size=16, color="black")),
    **legend_layout,
)

# panel b baselines
for row, col, w in [(ROW_V, "#808080", 1.5), (ROW_GAP, "#000000", 1), (ROW_W, "#808080", 1.5)]:
    fig.add_shape(type="line", xref="x2 domain", x0=0, x1=1, yref="y2", y0=row, y1=row,
                  line=dict(color=col, width=w), layer="below")

bold = dict(family=FONT, color="black", weight="bold")
for text, py in [("(a)", 34), ("(b)", 219), ("(c)", 351)]:
    fig.add_annotation(text=text, x=px_x(1036), y=px_y(py), xref="paper", yref="paper",
                       xanchor="right", yanchor="middle", showarrow=False,
                       font=dict(size=16, **bold))

fig.add_annotation(text="mA", x=px_x(18), y=px_y(108), xref="paper", yref="paper",
                   textangle=-90, showarrow=False, xanchor="center", yanchor="middle",
                   font=dict(size=20, **bold))
fig.add_annotation(text="Unidades Arbitrárias", x=px_x(1128), y=px_y(112),
                   xref="paper", yref="paper", textangle=-90, showarrow=False,
                   xanchor="center", yanchor="middle", font=dict(size=16, **bold))
fig.add_annotation(text="Unidades Arbitrárias", x=px_x(1126), y=px_y(430),
                   xref="paper", yref="paper", textangle=-90, showarrow=False,
                   xanchor="center", yanchor="middle", font=dict(size=16, **bold))
fig.add_annotation(text="ANO", x=px_x(565), y=px_y(576), xref="paper", yref="paper",
                   showarrow=False, xanchor="center", yanchor="middle", font=dict(size=21, **bold))

fig.write_html("out.html")
